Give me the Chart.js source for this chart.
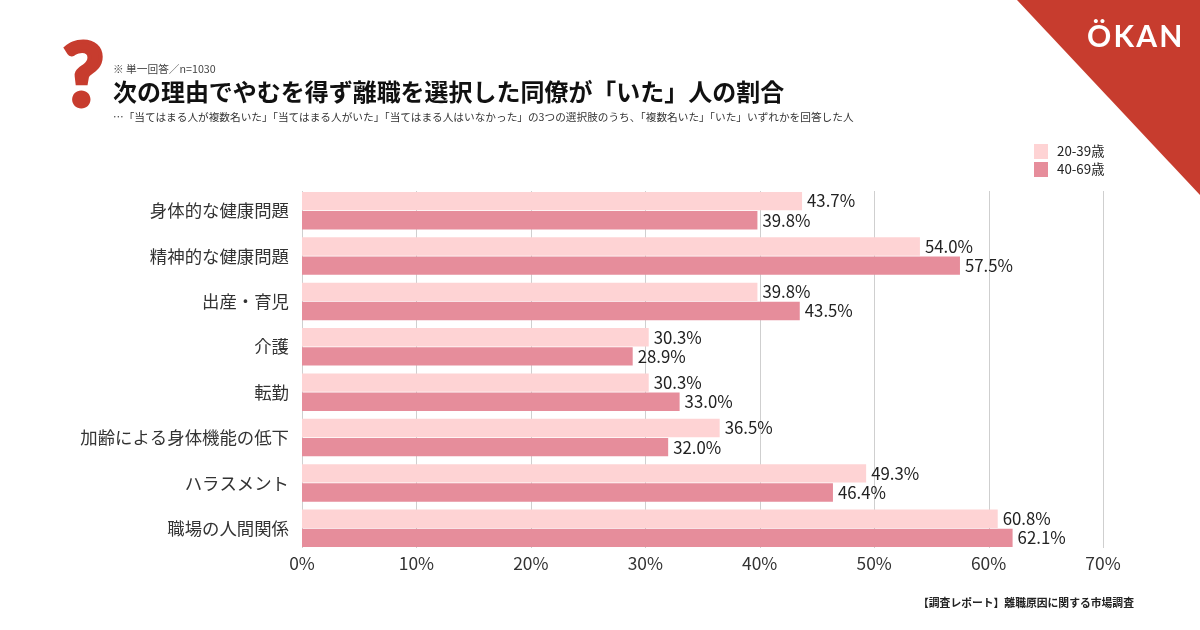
<!DOCTYPE html>
<html lang="ja">
<head>
<meta charset="utf-8">
<title>離職原因に関する市場調査</title>
<script src="https://cdn.jsdelivr.net/npm/chart.js@4"></script>
<style>
  html, body { margin: 0; padding: 0; background: #fff; overflow: hidden; }
  body { width: 1200px; height: 630px; position: relative; font-family: "Noto Sans CJK JP", sans-serif; color: #222; }
  #chartbox { position: absolute; left: 0; top: 0; width: 1200px; height: 630px; }
  .txt { position: absolute; white-space: nowrap; line-height: 1; }
  #corner { position: absolute; left: 1017px; top: 0; width: 183px; height: 195px; background: #c73c2e; clip-path: polygon(0 0, 100% 0, 100% 100%); }
  #logo { left: 1087px; top: 20px; font-family: Lato, sans-serif; font-weight: 700; font-size: 30px; letter-spacing: 2.2px; color: #fff; }
  #mark { left: 63px; top: 28px; font-family: Lato, sans-serif; font-weight: 900; font-size: 88px; color: #c73c2e; -webkit-text-stroke: 4px #c73c2e; }
  #note { left: 113px; top: 64px; font-size: 10.7px; color: #444; }
  #title { left: 113px; top: 79px; font-weight: 700; font-size: 23.97px; color: #111; }
  #sub { left: 113px; top: 112px; font-size: 10.66px; color: #333; }
  #source { left: 918px; top: 597px; font-weight: 700; font-size: 10.8px; color: #222; }
  .swatch { position: absolute; left: 1034px; width: 14px; height: 15px; }
  .legtxt { left: 1057px; font-size: 13.3px; color: #222; }
</style>
</head>
<body>
<div id="chartbox"><canvas id="grafico" width="1200" height="630"></canvas></div>
<div id="corner"></div>
<div class="txt" id="logo">ÖKAN</div>
<div class="txt" id="mark">?</div>
<div class="txt" id="note">※ 単一回答／n=1030</div>
<div class="txt" id="title">次の理由でやむを得ず離職を選択した同僚が「いた」人の割合</div>
<div class="txt" id="sub">…「当てはまる人が複数名いた」「当てはまる人がいた」「当てはまる人はいなかった」の3つの選択肢のうち、「複数名いた」「いた」いずれかを回答した人</div>
<div class="txt" id="source">【調査レポート】離職原因に関する市場調査</div>
<div id="leyenda"></div>

<script>
var categorias = ['身体的な健康問題', '精神的な健康問題', '出産・育児', '介護', '転勤', '加齢による身体機能の低下', 'ハラスメント', '職場の人間関係'];
var jovenes = [43.7, 54.0, 39.8, 30.3, 30.3, 36.5, 49.3, 60.8];
var mayores = [39.8, 57.5, 43.5, 28.9, 33.0, 32.0, 46.4, 62.1];
var nombres = ['20-39歳', '40-69歳'];
var colores = ['#fed3d4', '#e68d9b'];
var marcas = [0, 10, 20, 30, 40, 50, 60, 70];

var fuente = '"Noto Sans CJK JP", sans-serif';

// grid lines stop at the bars, so they are drawn here and not by the scale
var lineasGrid = {
  id: 'lineasGrid',
  beforeDatasetsDraw: function (chart) {
    var ctx = chart.ctx;
    var x = chart.scales.x;
    ctx.save();
    ctx.strokeStyle = '#cfcfcf';
    ctx.lineWidth = 1;
    marcas.forEach(function (m) {
      var px = Math.round(x.getPixelForValue(m)) + 0.5;
      ctx.beginPath();
      ctx.moveTo(px, 191);
      ctx.lineTo(px, 548);
      ctx.stroke();
    });
    ctx.restore();
  }
};

var etiquetas = {
  id: 'etiquetas',
  afterDatasetsDraw: function (chart) {
    var ctx = chart.ctx;
    ctx.save();
    ctx.font = '16.8px ' + fuente;
    ctx.fillStyle = '#222';
    ctx.textAlign = 'left';
    ctx.textBaseline = 'middle';
    chart.data.datasets.forEach(function (ds, d) {
      chart.getDatasetMeta(d).data.forEach(function (barra, i) {
        ctx.fillText(ds.data[i].toFixed(1) + '%', barra.x + 5, barra.y);
      });
    });
    ctx.restore();
  }
};

var grafico = new Chart(document.getElementById('grafico').getContext('2d'), {
  type: 'bar',
  data: {
    labels: categorias,
    datasets: [
      { label: nombres[0], data: jovenes, backgroundColor: colores[0] },
      { label: nombres[1], data: mayores, backgroundColor: colores[1] }
    ]
  },
  options: {
    indexAxis: 'y',
    responsive: false,
    animation: false,
    devicePixelRatio: 1,
    categoryPercentage: 0.846,
    barPercentage: 0.958,
    layout: { padding: { top: 188, right: 97, left: 0, bottom: 0 } },
    plugins: {
      legend: { display: false },
      tooltip: { enabled: false }
    },
    scales: {
      x: {
        min: 0,
        max: 70,
        afterFit: function (s) { s.height = 79; },
        grid: { display: false },
        border: { display: false },
        afterBuildTicks: function (s) {
          s.ticks = marcas.map(function (m) { return { value: m }; });
        },
        ticks: {
          padding: -6,
          maxRotation: 0,
          color: '#333',
          font: { family: fuente, size: 17.4 },
          callback: function (v) { return v + '%'; }
        }
      },
      y: {
        afterFit: function (s) { s.width = 302; },
        grid: { display: false },
        border: { display: false },
        ticks: {
          padding: 5,
          autoSkip: false,
          color: '#333',
          font: { family: fuente, size: 17.4 }
        }
      }
    }
  },
  plugins: [lineasGrid, etiquetas]
});

// legend built from the chart's datasets
var caja = document.getElementById('leyenda');
grafico.data.datasets.forEach(function (ds, i) {
  var top = 144 + i * 18;
  var sw = document.createElement('div');
  sw.className = 'swatch';
  sw.style.top = top + 'px';
  sw.style.background = ds.backgroundColor;
  caja.appendChild(sw);
  var t = document.createElement('div');
  t.className = 'txt legtxt';
  t.style.top = top + 'px';
  t.textContent = ds.label;
  caja.appendChild(t);
});
</script>
</body>
</html>
